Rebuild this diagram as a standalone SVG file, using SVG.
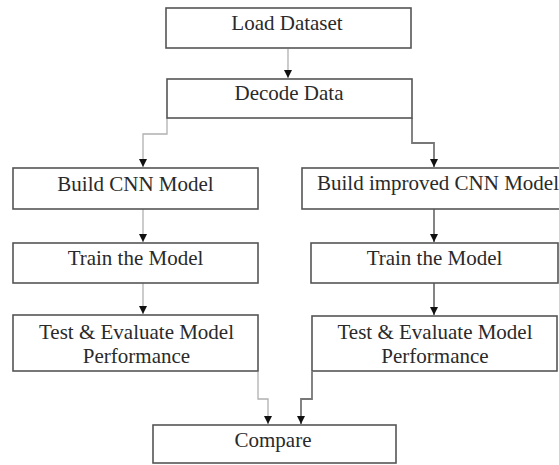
<svg xmlns="http://www.w3.org/2000/svg" width="559" height="465" viewBox="0 0 559 465">
<defs>
<marker id="ah" viewBox="0 0 8 8" refX="8" refY="4" markerWidth="8" markerHeight="8" markerUnits="userSpaceOnUse" orient="auto">
<path d="M0,0 L8,4 L0,8 z" fill="#111"/>
</marker>
<style>
.box{fill:#fff;stroke:#555;stroke-width:1.6}
.t{font-family:"Liberation Serif","Times New Roman",serif;font-size:21px;fill:#2a2a2a;text-anchor:middle}
.cl{fill:none;stroke:#b0b0b0;stroke-width:1.3}
.cr{fill:none;stroke:#777;stroke-width:1.8}
</style>
</defs>
<rect width="559" height="465" fill="#fff"/>
<g id="connectors">
<path class="cl" d="M288,49 V78" marker-end="url(#ah)"/>
<path class="cl" d="M167,118 V134 H143 V167" marker-end="url(#ah)"/>
<path class="cr" d="M412,118 V143 H434 V167" marker-end="url(#ah)"/>
<path class="cl" d="M143,209 V242" marker-end="url(#ah)"/>
<path class="cl" d="M143,283 V314" marker-end="url(#ah)"/>
<path class="cr" d="M434,209 V242" marker-end="url(#ah)"/>
<path class="cr" d="M434,283 V315" marker-end="url(#ah)"/>
<path class="cl" d="M258,372 V399 H268 V424" marker-end="url(#ah)"/>
<path class="cr" d="M312,372 V399 H301 V424" marker-end="url(#ah)"/>
</g>
<g id="load">
<rect class="box" x="166" y="8" width="245" height="40"/>
<text class="t" x="287" y="30">Load Dataset</text>
</g>
<g id="decode">
<rect class="box" x="167" y="79" width="245" height="39"/>
<text class="t" x="289" y="100">Decode Data</text>
</g>
<g id="build-cnn">
<rect class="box" x="13" y="168" width="245" height="41"/>
<text class="t" x="135.5" y="191">Build CNN Model</text>
</g>
<g id="build-improved">
<rect class="box" x="302" y="168" width="267" height="41"/>
<text class="t" x="438" y="190">Build improved CNN Model</text>
</g>
<g id="train-left">
<rect class="box" x="13" y="243" width="245" height="40"/>
<text class="t" x="135.5" y="265">Train the Model</text>
</g>
<g id="train-right">
<rect class="box" x="311" y="243" width="247" height="40"/>
<text class="t" x="434.5" y="265">Train the Model</text>
</g>
<g id="test-left">
<rect class="box" x="13" y="315" width="245" height="56"/>
<text class="t" x="136.5" y="339">Test &amp; Evaluate Model</text>
<text class="t" x="136.5" y="363">Performance</text>
</g>
<g id="test-right">
<rect class="box" x="312" y="316" width="245" height="55"/>
<text class="t" x="435" y="339">Test &amp; Evaluate Model</text>
<text class="t" x="435" y="363">Performance</text>
</g>
<g id="compare">
<rect class="box" x="153" y="425" width="243" height="38"/>
<text class="t" x="273" y="447">Compare</text>
</g>
</svg>
